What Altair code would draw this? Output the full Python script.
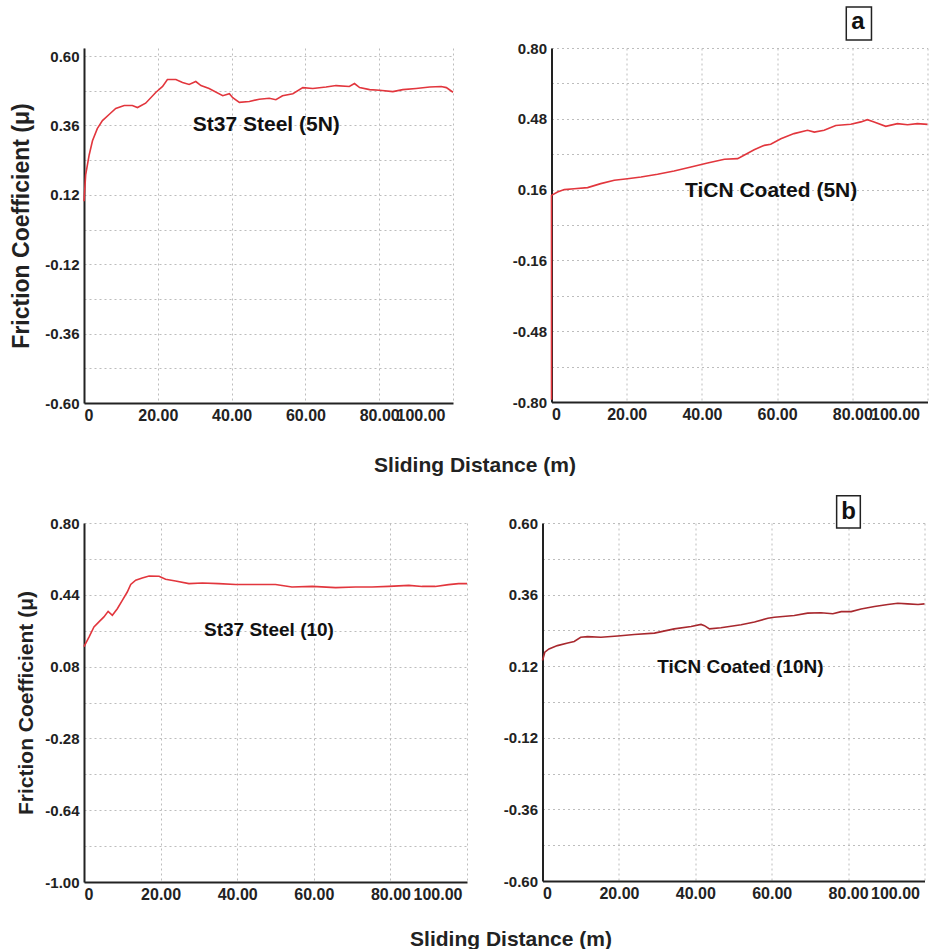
import altair as alt
import pandas as pd

FONT = "Liberation Sans"
INK = "#222222"
GRID = "#bdbdbd"

# ---------------- data ----------------
# Panel a-left: St37 Steel (5N)
p1_x = [0, 0.45, 1.4, 2.3, 3.6, 5.0, 6.8, 8.6, 10.9, 13.1, 14.5, 16.7, 19.5, 21.3, 22.6, 24.9, 26.7, 28.5, 30.3, 31.7,
        33.9, 37.6, 39.4, 40.3, 42.1, 44.8, 47.5, 50.2, 52.0, 53.8, 56.6, 59.3, 62.0, 65.6, 68.3, 71.9, 73.3, 74.7, 77.4, 80.1,
        83.7, 86.4, 90.0, 93.7, 96.8, 98.2, 100]
p1_y = [0.098, 0.189, 0.258, 0.307, 0.349, 0.377, 0.398, 0.419, 0.429, 0.429, 0.422, 0.437, 0.475, 0.495, 0.519, 0.519, 0.509, 0.502, 0.512, 0.498,
        0.488, 0.463, 0.470, 0.456, 0.440, 0.443, 0.451, 0.454, 0.449, 0.463, 0.470, 0.491, 0.488, 0.493, 0.498, 0.495, 0.505, 0.491, 0.484, 0.482,
        0.477, 0.484, 0.488, 0.493, 0.495, 0.491, 0.475]

# Panel a-right: TiCN Coated (5N)
p2_x = [0, 0, 1.6, 3.4, 6.0, 9.6, 13.1, 16.7, 20.2, 23.8, 28.2, 32.6, 37.1, 41.5, 46.0, 49.5, 51.2, 53.9, 56.6, 58.3,
        61.0, 64.5, 68.1, 69.9, 72.5, 75.6, 79.6, 82.3, 84.0, 85.8, 88.9, 92.0, 94.7, 97.3, 100]
p2_y = [-0.79, 0.134, 0.149, 0.160, 0.164, 0.169, 0.187, 0.202, 0.209, 0.217, 0.229, 0.244, 0.262, 0.280, 0.297, 0.300, 0.315, 0.340, 0.360, 0.365,
        0.390, 0.413, 0.428, 0.420, 0.428, 0.450, 0.455, 0.466, 0.476, 0.466, 0.446, 0.458, 0.453, 0.458, 0.455]

# Panel b-left: St37 Steel (10)
p3_x = [0, 1.3, 2.6, 3.9, 5.2, 6.3, 7.4, 8.7, 10.0, 11.3, 12.2, 13.5, 15.2, 17.0, 19.6, 21.3, 23.9, 27.4, 30.9, 35.2,
        39.6, 44.8, 50.0, 54.3, 59.6, 65.7, 70.9, 75.2, 79.6, 84.8, 88.3, 91.7, 95.2, 97.8, 100]
p3_y = [0.180, 0.228, 0.279, 0.304, 0.329, 0.357, 0.337, 0.370, 0.412, 0.454, 0.492, 0.513, 0.524, 0.534, 0.533, 0.518, 0.509, 0.496, 0.499, 0.496,
        0.492, 0.492, 0.492, 0.479, 0.482, 0.476, 0.479, 0.479, 0.482, 0.487, 0.482, 0.482, 0.491, 0.496, 0.496]

# Panel b-right: TiCN Coated (10N)
p4_x = [0, 0.6, 1.7, 3.9, 6.6, 8.3, 10.0, 11.8, 15.3, 19.7, 24.0, 29.3, 34.5, 38.9, 41.5, 42.4, 43.7, 46.7, 52.0, 55.5,
        59.0, 60.7, 65.9, 69.4, 72.9, 76.0, 78.2, 80.8, 83.4, 86.9, 90.4, 93.0, 95.6, 98.3, 100]
p4_y = [0.139, 0.167, 0.178, 0.189, 0.198, 0.203, 0.217, 0.219, 0.217, 0.221, 0.226, 0.231, 0.245, 0.253, 0.260, 0.256, 0.245, 0.249, 0.259, 0.268,
        0.281, 0.284, 0.290, 0.298, 0.299, 0.296, 0.303, 0.303, 0.312, 0.320, 0.327, 0.331, 0.329, 0.327, 0.329]

x_ticks = [0, 20, 40, 60, 80, 100]
grid_012 = [0.6, 0.48, 0.36, 0.24, 0.12, 0.0, -0.12, -0.24, -0.36, -0.48, -0.6]
labels_012 = [0.6, 0.36, 0.12, -0.12, -0.36, -0.6]
grid_016 = [0.8, 0.64, 0.48, 0.32, 0.16, 0.0, -0.16, -0.32, -0.48, -0.64, -0.8]
labels_016 = [0.8, 0.48, 0.16, -0.16, -0.48, -0.8]
grid_018 = [0.8, 0.62, 0.44, 0.26, 0.08, -0.1, -0.28, -0.46, -0.64, -0.82, -1.0]
labels_018 = [0.8, 0.44, 0.08, -0.28, -0.64, -1.0]

notes = ["St37 Steel (5N)", "TiCN Coated (5N)", "St37 Steel (10)", "TiCN Coated (10N)"]
note_x = [49.4, 58.4, 48.3, 51.8]
note_y = [0.362, 0.155, 0.263, 0.116]
note_size = [21, 21, 19, 19]

y_title = "Friction Coefficient (\u03bc)"
x_title = "Sliding Distance (m)"


def panel(xs, ys, color, ydom, grid_vals, label_vals, w, h, note_i,
          ytitle=None, ytitle_x=0, ytitle_size=22,
          xtitle=None, xtitle_x=0, xtitle_y=0, last_off=-8, tag=None):
    df = pd.DataFrame({"d": xs, "mu": ys, "i": list(range(len(xs)))})
    lab = "[" + ",".join(repr(v) for v in label_vals) + "]"
    yscale = alt.Scale(domain=ydom, nice=False, zero=False)
    xscale = alt.Scale(domain=[0, 100], nice=False, zero=False)

    yax = dict(values=grid_vals,
               labelExpr="indexof(" + lab + ", datum.value) >= 0 ? replace(format(datum.value, '.2f'), '\u2212', '-') : ''",
               grid=True, gridColor=GRID, gridDash=[2, 3], gridWidth=1,
               domainColor=INK, domainWidth=2, ticks=False, labelOverlap=False,
               labelFont=FONT, labelFontWeight="bold", labelFontSize=15, labelColor=INK, labelPadding=5)
    if ytitle:
        yax.update(titleFont=FONT, titleFontWeight="bold", titleFontSize=ytitle_size, titleColor=INK,
                   titleX=ytitle_x, titleBaseline="middle", titleAlign="center")
    xax = dict(values=x_ticks,
               labelExpr="datum.value == 0 ? '0' : format(datum.value, '.2f')",
               grid=True, gridColor=GRID, gridDash=[2, 3], gridWidth=1,
               domainColor=INK, domainWidth=2, ticks=False, labelOverlap=False,
               labelFont=FONT, labelFontWeight="bold", labelFontSize=16, labelColor=INK, labelPadding=4,
               labelOffset={"condition": {"test": "datum.value == 100", "value": last_off}, "value": 0})
    if xtitle:
        xax.update(titleFont=FONT, titleFontWeight="bold", titleFontSize=21, titleColor=INK,
                   titleX=xtitle_x, titleY=xtitle_y, titleBaseline="alphabetic", titleAlign="center")

    def X():
        return alt.X("d:Q", scale=xscale, axis=alt.Axis(**xax), title=xtitle)

    def Y():
        return alt.Y("mu:Q", scale=yscale, axis=alt.Axis(**yax), title=ytitle)

    line = alt.Chart(df).mark_line(color=color, strokeWidth=1.6).encode(
        x=X(), y=Y(), order="i:Q",
    )
    ndf = pd.DataFrame({"d": [note_x[note_i]], "mu": [note_y[note_i]], "t": [notes[note_i]]})
    note = alt.Chart(ndf).mark_text(font=FONT, fontWeight="bold", fontSize=note_size[note_i], color="#111111",
                                    align="center", baseline="middle").encode(
        x=X(), y=Y(), text="t:N",
    )
    layers = [line, note]
    if tag:
        letter, bx1, bx2, by1, by2, lx, ly = tag
        bdf = pd.DataFrame({"d": [bx1], "d2": [bx2], "mu": [by1], "mu2": [by2]})
        box = alt.Chart(bdf).mark_rect(fill="white", stroke=INK, strokeWidth=1.5).encode(
            x=X(), x2="d2:Q", y=Y(), y2="mu2:Q",
        )
        ldf = pd.DataFrame({"d": [lx], "mu": [ly], "t": [letter]})
        lt = alt.Chart(ldf).mark_text(font=FONT, fontWeight="bold", fontSize=24, color="#111111",
                                      align="center", baseline="alphabetic").encode(
            x=X(), y=Y(), text="t:N",
        )
        layers += [box, lt]
    return alt.layer(*layers).properties(width=w, height=h)


RED = "#e2363d"
DARKRED = "#a8282e"

p1 = panel(p1_x, p1_y, RED, [-0.6, 0.628], grid_012, labels_012, 369, 355, 0,
           ytitle=y_title, ytitle_x=-62.5, ytitle_size=23,
           xtitle=x_title, xtitle_x=390.5, xtitle_y=68, last_off=-8)
p2 = panel(p2_x, p2_y, RED, [-0.8, 0.8], grid_016, labels_016, 376, 354, 1,
           last_off=-8, tag=("a", 78.4, 85.1, 0.985, 0.836, 81.5, 0.886))
p3 = panel(p3_x, p3_y, RED, [-1.0, 0.8], grid_018, labels_018, 383, 359, 2,
           ytitle=y_title, ytitle_x=-57.5, ytitle_size=21,
           xtitle=x_title, xtitle_x=426.5, xtitle_y=63, last_off=-5)
p4 = panel(p4_x, p4_y, DARKRED, [-0.6, 0.6], grid_012, labels_012, 382, 358, 3,
           last_off=-5, tag=("b", 77.0, 83.2, 0.691, 0.583, 80.1, 0.613))

row1 = alt.hconcat(p1, p2, spacing=98.5, bounds="flush")
row2 = alt.hconcat(p3, p4, spacing=75.5, bounds="flush")

chart = alt.vconcat(row1, row2, spacing=20).properties(
    padding={"left": 10, "top": 6, "right": 0, "bottom": 0},
    background="white",
).configure_view(strokeWidth=0)

chart.save("out.html", embed_options={"renderer": "svg", "actions": False})
